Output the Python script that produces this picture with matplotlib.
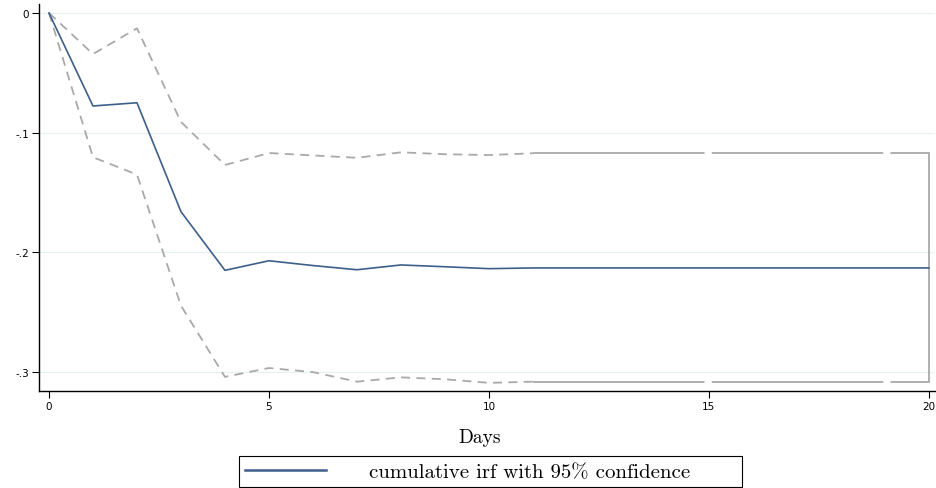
import matplotlib
matplotlib.use("Agg")
import matplotlib.pyplot as plt
from matplotlib.lines import Line2D

# Dager og kumulativ irf (lest av figuren)
dager = list(range(21))
irf = [0.0, -0.0777, -0.075, -0.166, -0.215, -0.207, -0.211, -0.2145, -0.2105,
       -0.212, -0.2136, -0.213, -0.213, -0.213, -0.213, -0.213, -0.213, -0.213,
       -0.213, -0.213, -0.213]
ovre = [0.0, -0.0343, -0.0128, -0.091, -0.127, -0.117, -0.119, -0.121, -0.1164,
        -0.118, -0.1187, -0.1172, -0.1172, -0.1172, -0.1172, -0.1172, -0.1172,
        -0.1172, -0.1172, -0.1172, -0.1172]
nedre = [0.0, -0.1205, -0.135, -0.2445, -0.304, -0.2966, -0.300, -0.308, -0.3044,
         -0.306, -0.309, -0.308, -0.308, -0.308, -0.308, -0.308, -0.308, -0.308,
         -0.308, -0.308, -0.308]

xticks = [0, 5, 10, 15, 20]
yticks = [0, -0.1, -0.2, -0.3]
ytick_labels = ["0", "-.1", "-.2", "-.3"]

blaa = "#3d5f8a"
graa = "#a9a9a9"
serif = "cmr10"

fig = plt.figure(figsize=(9.37, 4.89), dpi=100)
ax = fig.add_axes([39 / 937, 1 - 392 / 489, 896 / 937, 387 / 489])

# Konfidensbaand: stiplet foerst, lange streker etter dag 10
ax.plot(dager[:12], ovre[:12], color=graa, lw=1.3, dashes=(5, 3.5))
ax.plot(dager[:12], nedre[:12], color=graa, lw=1.3, dashes=(5, 3.5))
ax.plot(dager[11:], ovre[11:], color=graa, lw=1.3, dashes=(95, 4))
ax.plot(dager[11:], nedre[11:], color=graa, lw=1.3, dashes=(95, 4))
ax.plot([dager[-1], dager[-1]], [ovre[-1], nedre[-1]], color=graa, lw=1.3)

ax.plot(dager, irf, color=blaa, lw=1.2)

ax.set_xlim(-0.227, 20.14)
ax.set_ylim(-0.3158, 0.0075)
ax.set_xticks(xticks)
ax.set_yticks(yticks)
ax.set_yticklabels(ytick_labels)
ax.tick_params(labelsize=7.5, length=5, width=0.8, pad=2)
for s in ["top", "right"]:
    ax.spines[s].set_visible(False)
ax.spines["left"].set_linewidth(1.0)
ax.spines["bottom"].set_linewidth(1.0)
ax.grid(axis="y", color="#e8f0f3", lw=0.9)
ax.set_axisbelow(True)

# x-aksetittel
fig.text(480 / 937, 1 - 438 / 489, "Days", ha="center", va="center",
         fontfamily=serif, fontsize=14)

handle = Line2D([], [], color=blaa, lw=1.8)
leg = fig.legend([handle], ["cumulative irf with 95% confidence"],
                 bbox_to_anchor=(239 / 937, 0, 503 / 937, 33 / 489),
                 loc="center", mode="expand", handlelength=3.9, handletextpad=2.05,
                 borderpad=0.3, fancybox=False, edgecolor="black", framealpha=1,
                 prop={"family": serif, "size": 15}, borderaxespad=0)
leg.get_frame().set_linewidth(0.8)

# Avkuttet tittel oeverst
fig.text(215 / 937, 1 + 7 / 489, "strategy", ha="right", va="baseline",
         fontfamily=serif, fontsize=20)

fig.savefig("out.png", dpi=100)
